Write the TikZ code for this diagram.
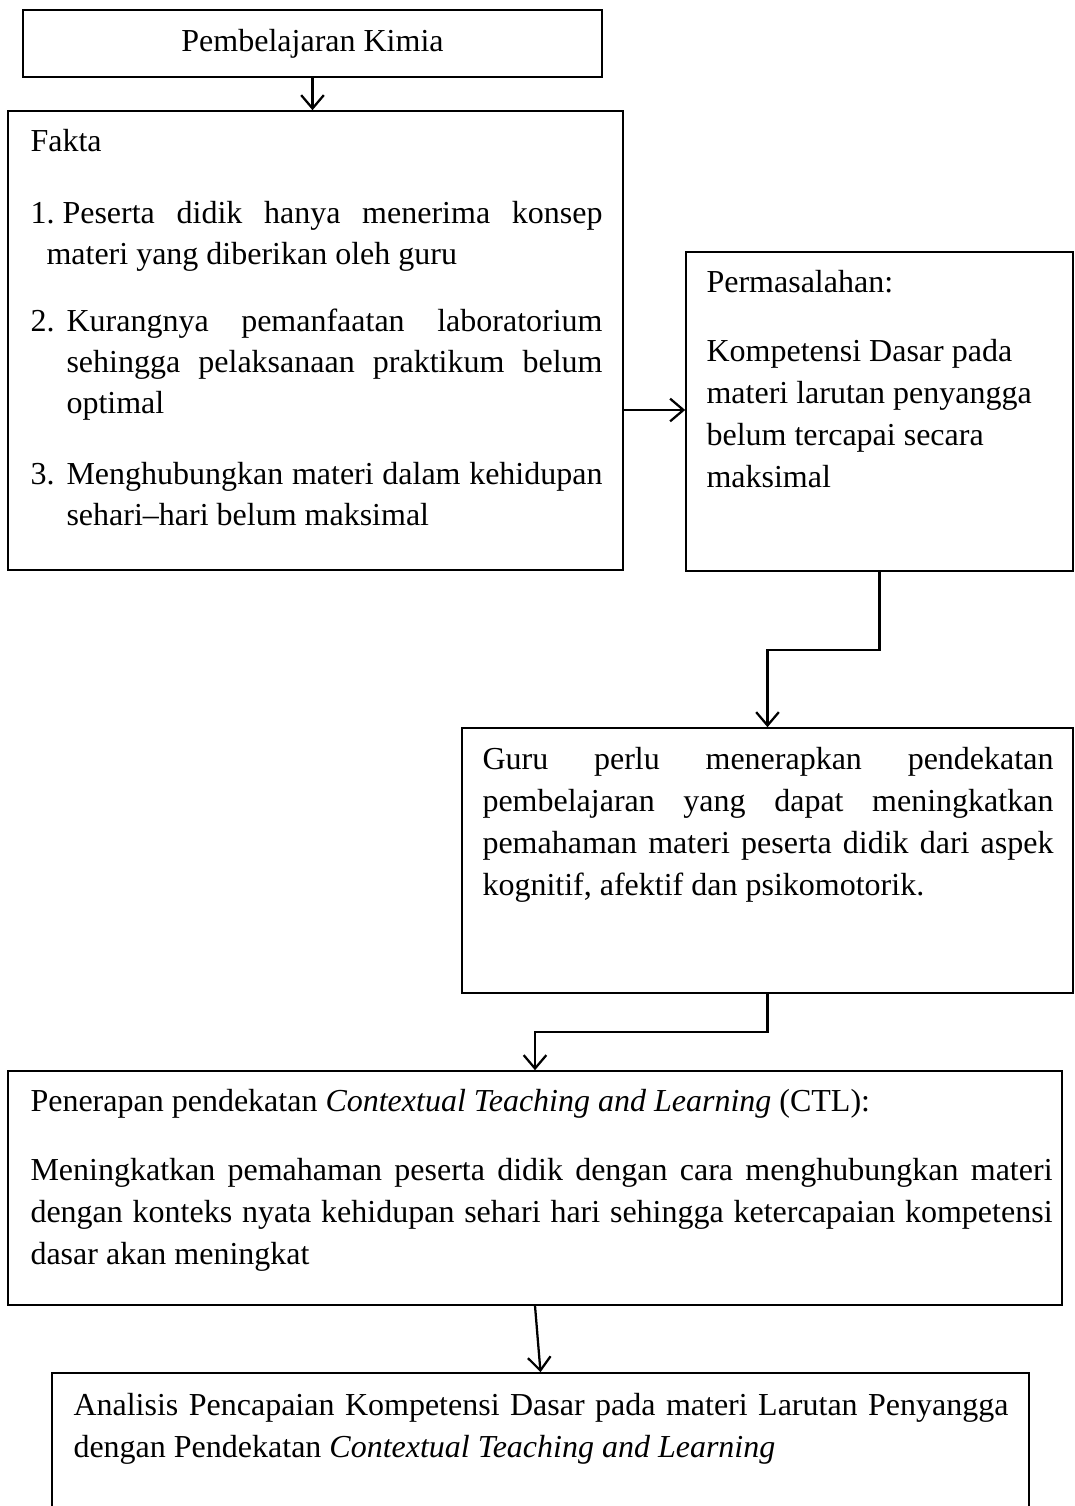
\documentclass[tikz,border=0pt]{standalone}
\usepackage{fontspec}
\setmainfont{Liberation Serif}
\usetikzlibrary{arrows.meta,fit}
\newcommand\myfs{\fontsize{12}{15.75}\selectfont}
\newcommand\myfsb{\fontsize{12}{15.4}\selectfont}
\tolerance=9999
\hbadness=10000
\begin{document}
\begin{tikzpicture}[x=0.375pt,y=-0.375pt,
  box/.style={draw, line width=0.6pt, inner sep=0pt},
  txt/.style={inner sep=0pt, anchor=base west, font=\myfs, align=justify},
  lst/.style={inner sep=0pt, anchor=base west, font=\myfsb, align=justify, text width=214.5pt},
  arr/.style={line width=0.85pt, -{Straight Barb[length=5pt,width=8.5pt,line width=0.85pt]}}]
\useasboundingbox (0,0) rectangle (1074,1506);
\clip (0,0) rectangle (1074,1506);
% boxes
\node[box, fit={(23,10) (602,77)}] (B1) {};
\node[box, fit={(8,111) (623,570)}] (B2) {};
\node[box, fit={(686,252) (1073,571)}] (B3) {};
\node[box, fit={(462,728) (1073,993)}] (B4) {};
\node[box, fit={(8,1071) (1062,1305)}] (B5) {};
\node[box, fit={(52,1373) (1029,1540)}] (B6) {};
% texts
\node[inner sep=0pt, font=\myfs] (T1) at (B1.center) {Pembelajaran Kimia};
\node[txt] (F0) at (30,151) {Fakta};
\node[lst] (F1) at (30,223) {1.\kern3pt Peserta didik hanya menerima konsep\linebreak\hspace*{6pt}materi yang diberikan oleh guru};
\node[lst] (F2) at (30,331) {2.\kern4.5pt Kurangnya pemanfaatan laboratorium\linebreak\hspace*{13.5pt}sehingga pelaksanaan praktikum belum\linebreak\hspace*{13.5pt}optimal};
\node[lst] (F3) at (30,484) {3.\kern4.5pt Menghubungkan materi dalam kehidupan\linebreak\hspace*{13.5pt}sehari–hari belum maksimal};
\node[txt, text width=140pt] (P0) at (706,292) {Permasalahan:};
\node[txt, text width=140pt] (P1) at (706,361) {Kompetensi Dasar pada\newline materi larutan penyangga\newline belum tercapai secara\newline maksimal};
\node[txt, text width=214.1pt] (G1) at (482,769) {Guru perlu menerapkan pendekatan\linebreak pembelajaran yang dapat meningkatkan\linebreak pemahaman materi peserta didik dari aspek\linebreak kognitif, afektif dan psikomotorik.};
\node[txt] (C0) at (30,1111) {Penerapan pendekatan \textit{Contextual Teaching and Learning} (CTL):};
\node[txt, text width=383.25pt] (C1) at (30,1180) {Meningkatkan pemahaman peserta didik dengan cara menghubungkan materi\linebreak dengan konteks nyata kehidupan sehari hari sehingga ketercapaian kompetensi\linebreak dasar akan meningkat};
\node[txt, text width=350.6pt] (A1) at (73,1415) {Analisis Pencapaian Kompetensi Dasar pada materi Larutan Penyangga\linebreak dengan Pendekatan \textit{Contextual Teaching and Learning}};
% connectors
\coordinate (j1) at (650,410);
\coordinate (m1) at (767.5,650);
\coordinate (m2) at (535,1032);
\draw[arr] (B1.south) -- (B1.south |- B2.north);
\draw[arr] (B2.east |- j1) -- (B3.west |- j1);
\draw[arr] (B3.south) |- (m1) -- (B4.north);
\draw[arr] (B4.south) |- (m2) -- (B5.north);
\draw[arr] (B5.south) -- (B6.north);
\end{tikzpicture}
\end{document}
